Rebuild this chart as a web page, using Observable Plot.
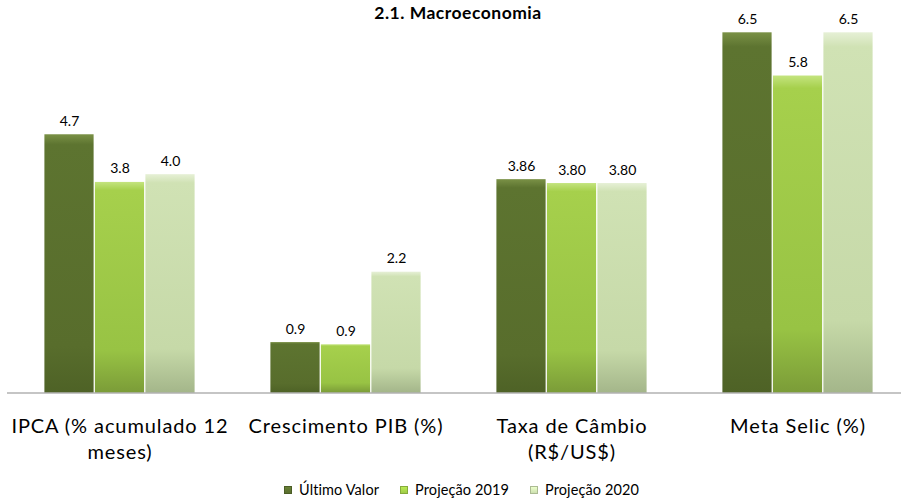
<!DOCTYPE html>
<html>
<head>
<meta charset="utf-8">
<script src="https://cdn.jsdelivr.net/npm/d3@7"></script>
<script src="https://cdn.jsdelivr.net/npm/@observablehq/plot@0.6"></script>
<style>
  html, body { margin: 0; padding: 0; background: #fff; }
  #wrap { position: relative; width: 901px; height: 502px; font-family: Lato, "Open Sans", sans-serif; }
  #title { position: absolute; top: 3px; left: 458px; transform: translateX(-50%); font-weight: bold; font-size: 17.5px; letter-spacing: 0.5px; line-height: 20px; color: #000; white-space: nowrap; }
  #legend { display: flex; justify-content: center; gap: 21px; padding-top: 9px; padding-left: 22px; font-size: 14.5px; letter-spacing: 0.1px; line-height: 18px; color: #000; }
  #legend .item { display: flex; align-items: center; gap: 7px; }
  #legend .sw { width: 8px; height: 8px; box-sizing: border-box; }
  svg { display: block; overflow: visible; }
  svg g[aria-label="x-axis tick label"] text { letter-spacing: 0.9px; }
</style>
</head>
<body>
<div id="wrap">
  <div id="chart"></div>
  <div id="title"></div>
  <div id="legend"></div>
</div>
<script>
const titleText = "2.1. Macroeconomia";
const categories = ["IPCA", "PIB", "Cambio", "Selic"];
const tickLabels = ["IPCA (% acumulado 12\nmeses)", "Crescimento PIB (%)", "Taxa de Câmbio\n(R$/US$)", "Meta Selic (%)"];
const seriesNames = ["Último Valor", "Projeção 2019", "Projeção 2020"];
const ultimoValor = [4.66, 0.91, 3.85, 6.5];
const projecao2019 = [3.80, 0.87, 3.78, 5.72];
const projecao2020 = [3.94, 2.18, 3.78, 6.5];
const labelsUltimo = ["4.7", "0.9", "3.86", "6.5"];
const labels2019 = ["3.8", "0.9", "3.80", "5.8"];
const labels2020 = ["4.0", "2.2", "3.80", "6.5"];
const seriesColors = ["#5a6f2e", "#a0cc48", "#cde0b0"];

const seriesValues = [ultimoValor, projecao2019, projecao2020];
const seriesLabels = [labelsUltimo, labels2019, labels2020];

const W = 901, H = 472;
const mL = 7, mR = 0, mT = 32.3, mB = H - 392.5;
const pInner = 0.3308, pOuter = 0.14, align = 0.573;

const band = d3.scaleBand().domain(categories).range([mL, W - mR])
  .paddingInner(pInner).paddingOuter(pOuter).align(align);
const bw = band.bandwidth();
const sub = bw / 3;

const marks = [];
seriesValues.forEach((vals, s) => {
  const data = categories.map((c, i) => ({cat: c, value: vals[i], label: seriesLabels[s][i]}));
  marks.push(Plot.barY(data, {
    x: "cat", y: "value",
    insetLeft: s * sub + 0.4, insetRight: (2 - s) * sub + 0.4,
    fill: `url(#grad${s})`
  }));
  marks.push(Plot.text(data, {
    x: "cat", y: "value", text: "label",
    dx: (s - 1) * sub, dy: -13.5,
    fontSize: 14, fill: "#000"
  }));
});
marks.push(Plot.ruleY([0], {stroke: "#8c8c8c", strokeWidth: 1.2}));
marks.push(Plot.axisX({
  tickSize: 0, tickPadding: 22, fontSize: 20, lineHeight: 1.3,
  tickFormat: (d) => tickLabels[categories.indexOf(d)],
  label: null, fill: "#000"
}));

const plot = Plot.plot({
  width: W, height: H,
  marginLeft: mL, marginRight: mR, marginTop: mT, marginBottom: mB,
  style: {fontFamily: "Lato, 'Open Sans', sans-serif", background: "#fff", color: "#000", overflow: "visible"},
  x: {domain: categories, paddingInner: pInner, paddingOuter: pOuter, align: align, axis: null},
  y: {domain: [0, 6.5], axis: null},
  marks
});

// gradient definitions for the bevelled bar look
const grads = [
  [["0%", "#7a9146"], ["4%", "#5d7430"], ["82%", "#586d2c"], ["100%", "#4e6226"]],
  [["0%", "#c4e47f"], ["4%", "#a6d04c"], ["80%", "#98c344"], ["100%", "#7b9c38"]],
  [["0%", "#e6f0d6"], ["4%", "#d0e2b4"], ["80%", "#c6d9a8"], ["100%", "#a4b68a"]]
];
const svgNS = "http://www.w3.org/2000/svg";
const defs = document.createElementNS(svgNS, "defs");
grads.forEach((stops, i) => {
  const g = document.createElementNS(svgNS, "linearGradient");
  g.setAttribute("id", "grad" + i);
  g.setAttribute("x1", "0"); g.setAttribute("y1", "0");
  g.setAttribute("x2", "0"); g.setAttribute("y2", "1");
  stops.forEach(([o, c]) => {
    const st = document.createElementNS(svgNS, "stop");
    st.setAttribute("offset", o); st.setAttribute("stop-color", c);
    g.appendChild(st);
  });
  defs.appendChild(g);
});
plot.insertBefore(defs, plot.firstChild);
document.getElementById("chart").appendChild(plot);

document.getElementById("title").textContent = titleText;
const legend = document.getElementById("legend");
seriesNames.forEach((name, i) => {
  const item = document.createElement("div");
  item.className = "item";
  const sw = document.createElement("div");
  sw.className = "sw";
  sw.style.background = `linear-gradient(${d3.color(seriesColors[i]).brighter(0.4)}, ${seriesColors[i]})`;
  sw.style.border = `1px solid ${d3.color(seriesColors[i]).darker(0.5)}`;
  const t = document.createElement("span");
  t.textContent = name;
  item.appendChild(sw); item.appendChild(t);
  legend.appendChild(item);
});
</script>
</body>
</html>
